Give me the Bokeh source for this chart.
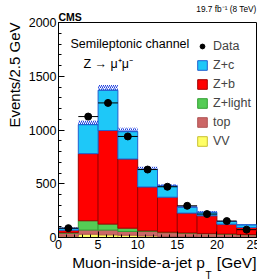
import numpy as np
from bokeh.plotting import figure
from bokeh.models import (Range1d, SingleIntervalTicker, Label, Legend, LegendItem, Title)
from bokeh.embed import file_html
from bokeh.resources import INLINE

# ---- data ----
bin_lo = [0.0, 2.5, 5.0, 7.5, 10.0, 12.5, 15.0, 17.5, 20.0, 22.5]
bin_width = 2.5
vv      = [12, 31, 25, 22, 15, 10, 8, 6, 5, 4]
top     = [28, 38, 44, 34, 41, 35, 32, 29, 25, 21]
zlight  = [5, 87, 56, 31, 6, 5, 3, 3, 3, 3]
zb      = [23, 624, 870, 643, 408, 325, 184, 164, 91, 65]
zc      = [17, 270, 375, 255, 164, 105, 55, 33, 25, 25]
unc     = [8, 38, 48, 36, 24, 18, 12, 10, 7, 6]
data    = [87, 1125, 1252, 940, 632, 472, 295, 218, 153, 73]

x_ticks_interval = 5
y_ticks_interval = 500

FONT = "Liberation Sans"
L, R, T, B = 55, 4, 22, 42
FW, FH = 198, 215

p = figure(frame_width=FW, frame_height=FH, output_backend="svg", toolbar_location=None,
           x_range=Range1d(0, 25), y_range=Range1d(0, 2000), title=None,
           min_border_left=L, min_border_right=R, min_border_top=T, min_border_bottom=B)
p.xgrid.visible = False
p.ygrid.visible = False
p.outline_line_color = "black"
p.outline_line_width = 1
p.background_fill_color = "white"
p.border_fill_color = "white"

centers = np.array(bin_lo) + bin_width / 2
comps = [("VV", vv, "#ffff66", "#c8c030"),
         ("top", top, "#cc6666", "#b05555"),
         ("Z+light", zlight, "#55cc55", "#33a033"),
         ("Z+b", zb, "#ff0000", "#a00000"),
         ("Z+c", zc, "#1ec8f8", "#2060d0")]
bottom = np.zeros(len(bin_lo))
renderers = {}
for name, vals, fc, lc in comps:
    vals = np.array(vals, dtype=float)
    r = p.vbar(x=centers, width=bin_width, bottom=bottom, top=bottom + vals,
               fill_color=fc, line_color=lc, line_width=1)
    renderers[name] = r
    bottom = bottom + vals
total = bottom

# uncertainty band (hatched)
p.vbar(x=centers, width=bin_width, bottom=total, top=total + np.array(unc),
       fill_alpha=0, line_color=None, hatch_pattern="/", hatch_color="#2040e0",
       hatch_scale=4, hatch_weight=1)
p.segment(x0=np.array(bin_lo), x1=np.array(bin_lo) + bin_width, y0=total, y1=total,
          line_color="#2060d0", line_width=1)

# data points
p.segment(x0=np.array(bin_lo), x1=np.array(bin_lo) + bin_width, y0=data, y1=data,
          line_color="black", line_width=1)
rd = p.scatter(x=centers, y=data, size=7, color="black")
renderers["Data"] = rd

# axes
for ax, iv in ((p.xaxis, x_ticks_interval), (p.yaxis, y_ticks_interval)):
    ax.ticker = SingleIntervalTicker(interval=iv, num_minor_ticks=5)
    ax.major_tick_in = 6
    ax.major_tick_out = 0
    ax.minor_tick_in = 3
    ax.minor_tick_out = 0
    ax.axis_line_color = "black"
    ax.major_label_text_font = FONT
    ax.major_label_text_font_size = "12.5px"
    ax.major_label_text_color = "black"
    ax.major_label_standoff = 2

# legend
items = [LegendItem(label=n, renderers=[renderers[n]]) for n in
         ["Data", "Z+c", "Z+b", "Z+light", "top", "VV"]]
leg = Legend(items=items, location=(138, 89), glyph_width=12, glyph_height=12,
             label_height=12, spacing=5, label_standoff=5, padding=0, margin=0,
             border_line_color=None, background_fill_alpha=0,
             label_text_font=FONT, label_text_font_size="12.5px")
p.add_layout(leg)

# texts inside the frame
def lab(text, x, y, size, align="left", baseline="alphabetic", style="normal"):
    p.add_layout(Label(x=x, y=y, x_units="screen", y_units="screen", text=text,
                       text_font=FONT, text_font_size=size, text_align=align,
                       text_baseline=baseline, text_font_style=style,
                       text_color="black"))

lab("Semileptonic channel", 12, FH - 21, "12.5px", baseline="middle")
lab("Z \u2192 \u03bc\u207a\u03bc\u207b", 25, FH - 41, "12.5px", baseline="middle")

# texts outside the frame, as titles
def title(text, place, size, align, style="normal", standoff=0, offset=0):
    p.add_layout(Title(text=text, align=align, text_font=FONT, text_font_size=size,
                       text_font_style=style, standoff=standoff, offset=offset,
                       text_color="black"), place)

title("CMS", "above", "10.5px", "left", style="bold", standoff=-1)
title("19.7 fb\u207b\u00b9 (8 TeV)", "above", "8.3px", "right", standoff=-9)
title("Events/2.5 GeV", "left", "15px", "right", standoff=6)
fs = 15.5
title("Muon-inside-a-jet p\u2002 [GeV]", "below", f"{fs}px", "right", standoff=1)
w_tail = (0.278 + 0.278 + 0.778 + 0.556 + 0.667 + 0.278) * fs  # " [GeV]" width
title("T", "below", "10px", "right", standoff=-8, offset=w_tail + 1)

open("out.html", "w").write(file_html(p, INLINE))
